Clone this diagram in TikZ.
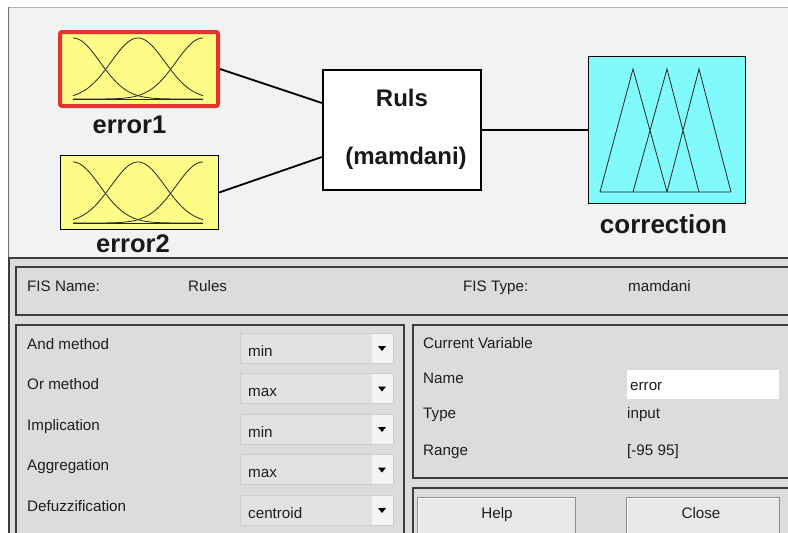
\documentclass[tikz,border=0pt]{standalone}
\usepackage{fontspec}
\setmainfont{Liberation Sans}
\definecolor{canvas}{RGB}{242,242,242}
\definecolor{uibg}{RGB}{220,220,220}
\definecolor{edge}{RGB}{60,60,60}
\definecolor{mfyellow}{RGB}{252,252,135}
\definecolor{mfcyan}{RGB}{128,250,250}
\definecolor{sel}{RGB}{226,52,44}
\definecolor{popfill}{RGB}{226,226,226}
\definecolor{popedge}{RGB}{205,205,205}
\definecolor{popbtn}{RGB}{244,244,244}
\definecolor{btnfill}{RGB}{232,232,232}
\definecolor{txt}{RGB}{30,30,30}
\begin{document}
\begin{tikzpicture}[x=1pt,y=-1pt,
  mfbox/.style={draw, fill=mfyellow, inner sep=0pt},
  wire/.style={line width=1.8pt, black},
  curve/.style={line width=0.8pt, black!85},
  lbl/.style={font=\fontsize{25.5}{28}\selectfont\bfseries, anchor=base, inner sep=0pt, text=black!90},
  ui/.style={font=\fontsize{15.2}{17}\selectfont, anchor=base west, inner sep=0pt, text=txt},
  panel/.style={draw=edge, line width=1.3pt},
  popup/.style={fill=popfill, draw=popedge, line width=0.6pt},
  button/.style={fill=btnfill, draw=black!45, line width=0.8pt}]
\useasboundingbox (0,0) rectangle (788,533);
\fill[white] (0,0) rectangle (788,533);

% ---------- editor canvas ----------
\fill[canvas] (8,7) rectangle (788,258);
\draw[black!30, line width=1pt] (8,7) -- (788,7);
\draw[black!55, line width=1pt] (8,258) -- (8,7);

% input variable error1 (selected)
\node[mfbox, draw=sel, line width=4pt, rounded corners=2pt,
      minimum width=158pt, minimum height=74pt] (e1) at (139,69) {};
\draw[curve] plot[domain=73:203, samples=70, smooth] (\x, {99-61*exp(-0.5*((\x-73)/27)^2)});
\draw[curve] plot[domain=73:203, samples=70, smooth] (\x, {99-61*exp(-0.5*((\x-138)/27)^2)});
\draw[curve] plot[domain=73:203, samples=70, smooth] (\x, {99-61*exp(-0.5*((\x-203)/27)^2)});
\draw[curve] (73,99.5) -- (203,99.5);
\node[lbl] (t1) at (129.5,133) {error1};

% input variable error2
\node[mfbox, line width=1.2pt, minimum width=158pt, minimum height=74pt] (e2) at (139.5,192.5) {};
\draw[curve] plot[domain=73:203, samples=70, smooth] (\x, {223-61*exp(-0.5*((\x-73)/27)^2)});
\draw[curve] plot[domain=73:203, samples=70, smooth] (\x, {223-61*exp(-0.5*((\x-138)/27)^2)});
\draw[curve] plot[domain=73:203, samples=70, smooth] (\x, {223-61*exp(-0.5*((\x-203)/27)^2)});
\draw[curve] (73,223.5) -- (203,223.5);
\node[lbl] (t2) at (133,252) {error2};

% rule block
\node[draw, fill=white, line width=2.2pt, inner sep=0pt,
      minimum width=158pt, minimum height=120pt] (rules) at (402,130) {};
\node[lbl, font=\fontsize{24}{28}\selectfont\bfseries] (rt1) at (402,106) {Ruls};
\node[lbl, font=\fontsize{24}{28}\selectfont\bfseries] (rt2) at (406,164) {(mamdani)};

% output variable
\node[draw, fill=mfcyan, line width=1.3pt, inner sep=0pt,
      minimum width=157pt, minimum height=147pt] (corr) at (667,130) {};
\draw[curve, line join=miter] (600,192) -- (633,69) -- (667,192)
      (633,192) -- (667,69) -- (699,192)
      (667,192) -- (699,69) -- (731,192)
      (600,192) -- (731,192);
\node[lbl, font=\fontsize{26}{28}\selectfont\bfseries] (t3) at (663.5,233) {correction};

% connectors
\draw[wire] (e1.east) -- ([yshift=27pt]rules.west);
\draw[wire] (e2.east) -- ([yshift=-27pt]rules.west);
\draw[wire] (rules.east) -- (corr.west);

% ---------- property panel ----------
\fill[uibg] (9,259) rectangle (788,533);
\draw[edge, line width=2pt] (8,258) -- (788,258);
\draw[edge, line width=1.5pt] (9,258) -- (9,533);

\draw[panel] (16,267) rectangle (795,315);
\draw[panel] (16,325) rectangle (404,545);
\draw[panel] (413,325) rectangle (795,478);
\draw[panel] (413,488) rectangle (795,545);

\node[ui] (fisn) at (27,291) {FIS Name:};
\node[ui] (fisnv) at (188,291) {Rules};
\node[ui] (fist) at (463,291) {FIS Type:};
\node[ui] (fistv) at (628,291) {mamdani};

% method selectors
\foreach \i/\lab/\val in {0/And method/min, 1/Or method/max, 2/Implication/min,
                          3/Aggregation/max, 4/Defuzzification/centroid}{
  \pgfmathsetmacro{\yy}{333+40.5*\i}
  \fill[popup] (240,\yy) rectangle (393,\yy+30);
  \fill[popbtn] (372,\yy+0.5) rectangle (392.5,\yy+29.5);
  \fill[black] (378,\yy+13) -- (386,\yy+13) -- (382,\yy+18) -- cycle;
  \node[ui] (lab\i) at (27,\yy+16) {\lab};
  \node[ui] (val\i) at (248,\yy+23) {\val};
}

% current variable
\node[ui] (cv) at (423,348) {Current Variable};
\node[ui] (cvn) at (423,383) {Name};
\fill[white] (627,370) rectangle (779,399);
\node[ui] (cvnv) at (630,390) {error};
\node[ui] (cvt) at (423,418) {Type};
\node[ui] (cvtv) at (627,418) {input};
\node[ui] (cvr) at (423,455) {Range};
\node[ui] (cvrv) at (627,455) {[-95 95]};

% buttons
\draw[button] (417,497) rectangle (575,540);
\draw[button] (626,497) rectangle (779,540);
\draw[white, line width=0.8pt] (418,539) -- (418,498) -- (574,498);
\draw[white, line width=0.8pt] (627,539) -- (627,498) -- (778,498);
\node[ui, anchor=base] (help) at (497,518) {Help};
\node[ui, anchor=base] (close) at (701,518) {Close};
\end{tikzpicture}
\end{document}
